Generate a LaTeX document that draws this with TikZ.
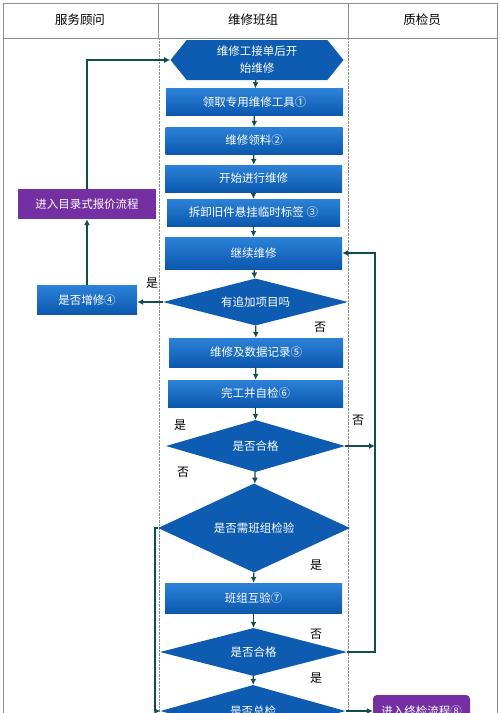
\documentclass[tikz,border=0pt]{standalone}
\usepackage{fontspec}
\setmainfont{Noto Sans CJK SC}
\usepackage{tikz}
\usetikzlibrary{calc,positioning,arrows.meta,shapes.geometric,shapes.symbols}

\definecolor{boxtop}{HTML}{2C82D8}
\definecolor{boxbot}{HTML}{0B57AE}
\definecolor{purp}{HTML}{7430A2}
\definecolor{arrowc}{HTML}{154C4C}
\definecolor{frame}{HTML}{8C8C8C}

\tikzset{
	stepbox/.style={rectangle, top color=boxtop, bottom color=boxbot, draw=none, text=white, font=\fontsize{11.5}{13}\selectfont, minimum width=177pt, minimum height=27pt, inner sep=0pt},
	decision/.style={diamond, aspect=3, fill=boxbot!90!boxtop, text=white, font=\fontsize{11.5}{13}\selectfont, inner sep=0pt},
	quote/.style={rectangle, fill=purp, text=white, font=\fontsize{11.5}{13}\selectfont, inner sep=0pt},
	flow/.style={draw=arrowc, line width=1.2pt, -{Latex[length=6pt,width=6pt]}},
	yn/.style={font=\fontsize{12}{14}\selectfont}
}

\begin{document}
\begin{tikzpicture}[x=1pt,y=-1pt]
		\clip (0,0) rectangle (500,713);
		\fill[white] (0,0) rectangle (500,713);

		% frame and lanes
		\draw[frame, line width=0.8pt] (3,725) -- (3,3) -- (497,3) -- (497,725);
		\draw[frame, line width=0.8pt] (3,38) -- (497,38);
		\draw[frame, line width=0.8pt] (158,3) -- (158,38) (348,3) -- (348,38);
		\draw[frame, densely dotted] (159,38) -- (159,725) (348,38) -- (348,725);
		\node[font=\fontsize{12.5}{14}\selectfont] (lane1) at (80,20) {服务顾问};
		\node[font=\fontsize{12.5}{14}\selectfont] (lane2) at (253,20) {维修班组};
		\node[font=\fontsize{12.5}{14}\selectfont] (lane3) at (422,20) {质检员};

		% repair team
		\node[signal, signal to=west and east, signal pointer angle=102, fill=boxbot!90!boxtop, text=white, font=\fontsize{11.5}{17}\selectfont, align=center, minimum width=173pt, minimum height=40pt, inner sep=0pt] (start) at (257,60) {维修工接单后开\\始维修};
		\node[stepbox] (tools) at (254.5,102) {领取专用维修工具①};
		\node[stepbox] (parts) at (254,140.5) {维修领料②};
		\node[stepbox] (begin) at (253.5,178.5) {开始进行维修};
		\node[stepbox, minimum width=173pt] (label) at (253.5,212.5) {拆卸旧件悬挂临时标签 ③};
		\node[stepbox, minimum height=32pt] (cont) at (253.5,253) {继续维修};
		\node[decision, minimum width=185pt, minimum height=47pt] (extra) at (255.5,302) {有追加项目吗};
		\node[stepbox, minimum width=174pt, minimum height=29pt] (record) at (256,352.5) {维修及数据记录⑤};
		\node[stepbox, minimum width=175pt] (self) at (255.5,393.5) {完工并自检⑥};
		\node[decision, minimum width=179pt, minimum height=52pt] (ok1) at (255.5,446) {是否合格};
		\node[decision, minimum width=192pt, minimum height=89pt] (need) at (254,528) {是否需班组检验};
		\node[stepbox, minimum height=30pt] (mutual) at (253.5,598) {班组互验⑦};
		\node[decision, minimum width=187pt, minimum height=48pt] (ok2) at (253.5,652) {是否合格};
		\node[decision, minimum width=185pt, minimum height=52pt] (final) at (253,711) {是否总检};

		% service advisor
		\node[stepbox, minimum width=100pt, minimum height=29pt] (more) at (87,300) {是否增修④};
		\node[quote, minimum width=138pt, minimum height=30pt] (catalog) at (87,204) {进入目录式报价流程};

		% inspector
		\node[quote, rounded corners=4pt, minimum width=97pt, minimum height=32pt] (inspect) at (421.5,711) {进入终检流程⑧};

		\coordinate (rback) at (375,0);
		\coordinate (lback) at (155,0);

		\draw[flow] (start) -- (tools);
		\draw[flow] (tools) -- (parts);
		\draw[flow] (parts) -- (begin);
		\draw[flow] (begin) -- (label);
		\draw[flow] (label) -- (cont);
		\draw[flow] (cont) -- (extra);
		\draw[flow] (extra.west) -- (extra.west -| more.east);
		\draw[flow] (more.north) -- (catalog.south);
		\draw[flow] (catalog.north) |- (start.west);
		\draw[flow] (extra) -- (record);
		\draw[flow] (record) -- (self);
		\draw[flow] (self) -- (ok1);
		\draw[flow] (ok1.east) -- (ok1.east -| rback);
		\draw[flow] (ok1) -- (need);
		\draw[flow] (need) -- (mutual);
		\draw[flow] (mutual) -- (ok2);
		\draw[flow] (ok2.east) -- (ok2.east -| rback) |- (cont.east);
		\draw[flow] (ok2) -- (final);
		\draw[flow] (need.west) -- (need.west -| lback) |- (final.west);
		\draw[flow] (final.east) -- (inspect.west);

		% answers
		\node[yn] (y1) at (152,283) {是};
		\node[yn] (n1) at (320,327) {否};
		\node[yn] (y2) at (180,425) {是};
		\node[yn] (n2) at (183,472) {否};
		\node[yn] (n3) at (358,420) {否};
		\node[yn] (y3) at (316,565) {是};
		\node[yn] (n4) at (316,634) {否};
		\node[yn] (y4) at (316,678) {是};
	\end{tikzpicture}
\end{document}
